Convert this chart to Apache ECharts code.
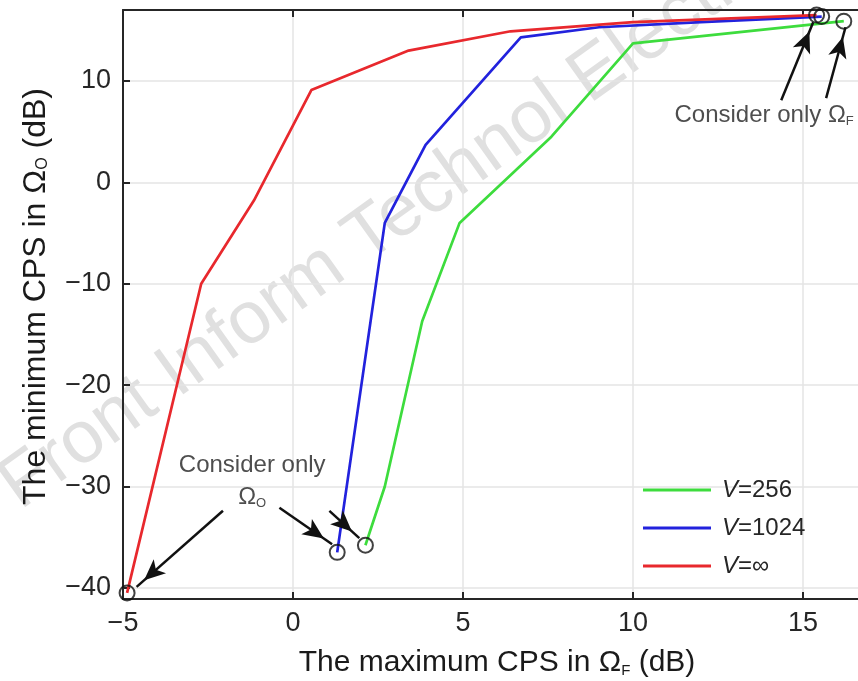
<!DOCTYPE html>
<html>
<head>
<meta charset="utf-8">
<script src="https://cdn.jsdelivr.net/npm/echarts@6/dist/echarts.min.js"></script>
<style>html,body{margin:0;padding:0;background:#fff}#c{width:858px;height:681px}</style>
</head>
<body>
<div id="c"></div>
<script>
// ---------- data ----------
const seriesNames = ['V=256', 'V=1024', 'V=\u221e'];
const green256 = [[2.13,-35.8],[2.7,-30],[3.8,-13.7],[4.9,-4],[7.6,4.5],[10,13.7],[16.2,15.9]];
const blue1024 = [[1.3,-36.5],[2.7,-4],[3.9,3.7],[6.7,14.3],[9,15.3],[12,15.8],[15.55,16.35]];
const redInf   = [[-4.88,-40.5],[-2.7,-10],[-1.15,-1.8],[0.54,9.1],[3.4,13],[6.4,14.9],[10,15.8],[15.4,16.5]];
const xTicks = [-5, 0, 5, 10, 15];
const yTicks = [-40, -30, -20, -10, 0, 10];
// annotation arrows (data coordinates, tail -> tip)
const arrowTails = [[-2.06,-32.4],[-0.4,-32.1],[1.07,-32.4],[14.36,8.1],[15.68,8.3]];
const arrowTips  = [[-4.6,-39.9],[1.15,-35.7],[1.95,-35.1],[15.3,15.8],[16.25,15.3]];
// annotation texts
const noteTexts = ['Consider only', '{o|\u03a9}{s|O}', 'Consider only \u03a9{s|F}'];
const noteAnchors = [[-1.2,-27.9],[-1.2,-31.1],[11.22,6.6]];

// ---------- chart ----------
const FONT = 'Liberation Sans, Arial, Helvetica, sans-serif';
const AX = '#262626';
const colors = ['#3ddc3d', '#2222dd', '#e8282d'];
const lineData = [green256, blue1024, redInf];
const fmtNum = v => String(v).replace('-', '\u2212');
const last = a => a[a.length - 1];
const endpoints = [redInf[0], blue1024[0], green256[0], last(redInf), last(blue1024), last(green256)];

const chart = echarts.init(document.getElementById('c'), null, {renderer: 'canvas'});

const axisCommon = {
  type: 'value',
  axisLine: {show: true, onZero: false, lineStyle: {color: AX, width: 2}},
  axisTick: {show: true, inside: true, length: 7, lineStyle: {color: AX, width: 2}}
};
const makeRich = (fs) => ({
  n: {fontSize: fs, color: '#1a1a1a', fontFamily: FONT, lineHeight: 34, verticalAlign: 'middle'},
  s: {fontSize: Math.round(fs / 2), color: '#1a1a1a', fontFamily: FONT, lineHeight: 34, verticalAlign: 'bottom', padding: [0,0,2,0]}
});

const option = {
  animation: false,
  backgroundColor: '#fff',
  textStyle: {fontFamily: FONT},
  grid: {left: 123, top: 10, width: 748, height: 589, containLabel: false, outerBoundsMode: 'none'},
  xAxis: [
    Object.assign({}, axisCommon, {
      min: -5, max: 17, interval: 5, position: 'bottom',
      axisLabel: {show: true, fontSize: 27, color: AX, fontFamily: FONT, margin: 11,
        formatter: v => xTicks.includes(v) ? fmtNum(v) : ''},
      splitLine: {show: true, lineStyle: {color: '#e4e4e4', width: 1.5}},
      name: '{n|The maximum CPS in \u03a9}{s|F}{n| (dB)}',
      nameLocation: 'middle', nameGap: 47,
      nameTextStyle: {color: '#1a1a1a', fontFamily: FONT, rich: makeRich(30)}
    }),
    Object.assign({}, axisCommon, {
      min: -5, max: 17, interval: 5, position: 'top',
      axisLabel: {show: false}, splitLine: {show: false}
    })
  ],
  yAxis: [
    Object.assign({}, axisCommon, {
      min: -41.1, max: 17, position: 'left',
      axisTick: {show: true, inside: true, length: 7, lineStyle: {color: AX, width: 2}, customValues: yTicks},
      axisLabel: {show: true, fontSize: 27, color: AX, fontFamily: FONT, margin: 12, customValues: yTicks,
        formatter: v => yTicks.includes(v) ? fmtNum(v) : ''},
      splitLine: {show: true, lineStyle: {color: '#e4e4e4', width: 1.5}},
      name: '{n|The minimum CPS in \u03a9}{s|O}{n| (dB)}',
      nameLocation: 'middle', nameGap: 70, nameRotate: 90,
      nameTextStyle: {color: '#1a1a1a', fontFamily: FONT, rich: makeRich(32), padding: [0, 0, 0, 16]}
    })
  ],
  legend: {
    show: true,
    orient: 'vertical',
    left: 643, top: 478, padding: 0,
    itemWidth: 68, itemHeight: 3, itemGap: 14,
    icon: 'rect',
    data: seriesNames,
    formatter: name => '{i|V}{n|' + name.slice(1) + '}',
    textStyle: {padding: [0,0,0,6],
      rich: {i: {fontStyle: 'italic', fontSize: 24, color: '#262626', fontFamily: FONT},
             n: {fontSize: 24, color: '#262626', fontFamily: FONT}}},
    selectedMode: false
  },
  graphic: [{
    type: 'text', x: 30, y: 524, rotation: 0.62, z: -10, silent: true,
    style: {text: 'Front Inform Technol Electron Eng', font: '74px ' + FONT, fill: '#e0e0e0',
            align: 'left', verticalAlign: 'bottom'}
  }],
  series: lineData.map((d, i) => ({
    name: seriesNames[i], type: 'line', data: d, symbol: 'none', z: 3,
    lineStyle: {color: colors[i], width: 2.7}, itemStyle: {color: colors[i]}
  })).concat([
    {
      name: 'ends', type: 'scatter', data: endpoints, symbol: 'circle', symbolSize: 15, z: 6, silent: true,
      itemStyle: {color: 'rgba(0,0,0,0)', borderColor: '#111', borderWidth: 2},
      markLine: {
        silent: true, animation: false,
        symbol: ['none', 'arrow'], symbolSize: [14, 21], symbolOffset: [[0,0],[0,10]],
        lineStyle: {color: '#111', width: 2.5, type: 'solid'},
        label: {show: false},
        data: arrowTails.map((t, i) => [{coord: t}, {coord: arrowTips[i]}])
      }
    },
    {
      name: 'notes', type: 'scatter', symbolSize: 0, z: 7, silent: true,
      data: noteTexts.map((t, i) => ({
        value: noteAnchors[i],
        label: {show: true, formatter: t, position: i === 2 ? 'right' : 'inside', distance: 0,
          fontSize: 24, color: '#222', fontFamily: FONT,
          rich: {o: {fontSize: 24, color: '#222', fontFamily: FONT},
                 s: {fontSize: 13, color: '#222', fontFamily: FONT, verticalAlign: 'bottom', padding: [10,0,0,0]}}}
      }))
    }
  ])
};
chart.setOption(option);
</script>
</body>
</html>
